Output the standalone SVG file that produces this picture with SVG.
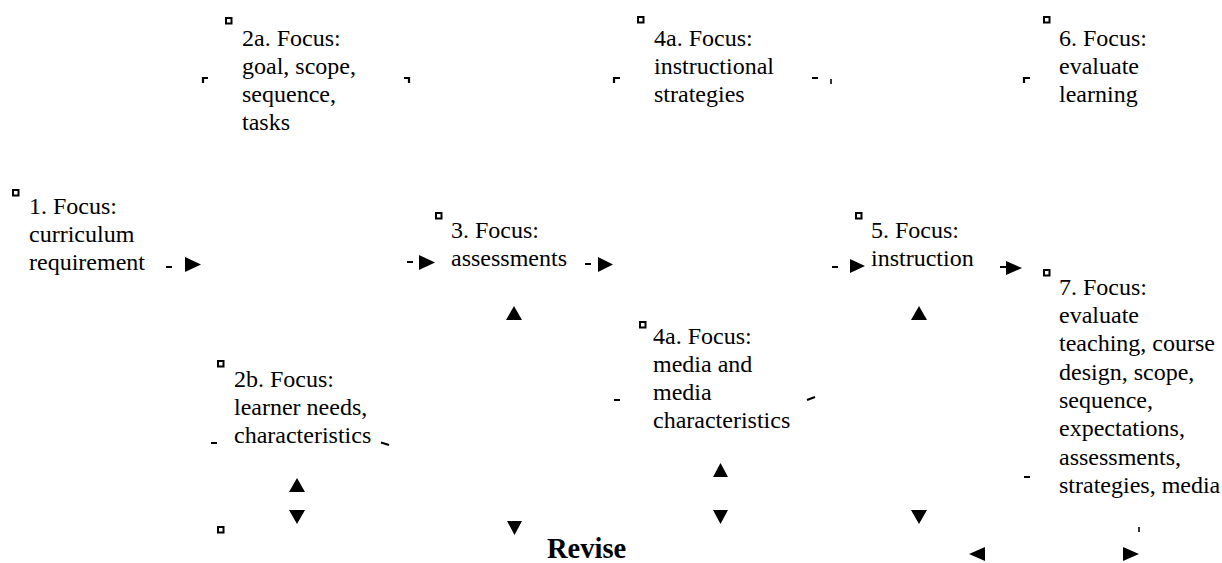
<svg xmlns="http://www.w3.org/2000/svg" width="1222" height="563" viewBox="0 0 1222 563">
  <style>
    text { fill: #000; }
    .sq { fill: none; stroke: #000; stroke-width: 2; }
    .d { stroke: #000; stroke-width: 2.2; fill: none; }
    .k { stroke: #000; stroke-width: 1.6; fill: none; }
    .h { fill: #000; }
  </style>
  <rect width="1222" height="563" fill="#fff"/>

  <!-- focus nodes -->
  <g font-family="'Liberation Serif', 'Times New Roman', Times, serif" font-size="24">
  <g id="node-1">
    <rect class="sq" x="13" y="190" width="5.5" height="5.5"/>
    <text x="29" y="214">1. Focus:</text>
    <text x="29" y="242">curriculum</text>
    <text x="29" y="270">requirement</text>
  </g>
  <g id="node-2a">
    <rect class="sq" x="226" y="18" width="5.5" height="5.5"/>
    <text x="242" y="46">2a. Focus:</text>
    <text x="242" y="74">goal, scope,</text>
    <text x="242" y="102">sequence,</text>
    <text x="242" y="130">tasks</text>
  </g>
  <g id="node-2b">
    <rect class="sq" x="218" y="361" width="5.5" height="5.5"/>
    <text x="234" y="387">2b. Focus:</text>
    <text x="234" y="415">learner needs,</text>
    <text x="234" y="443">characteristics</text>
  </g>
  <g id="node-3">
    <rect class="sq" x="436" y="213" width="5.5" height="5.5"/>
    <text x="451" y="238">3. Focus:</text>
    <text x="451" y="266">assessments</text>
  </g>
  <g id="node-4a-strategies">
    <rect class="sq" x="638" y="17" width="5.5" height="5.5"/>
    <text x="654" y="46">4a. Focus:</text>
    <text x="654" y="74">instructional</text>
    <text x="654" y="102">strategies</text>
  </g>
  <g id="node-4a-media">
    <rect class="sq" x="640" y="322" width="5.5" height="5.5"/>
    <text x="653" y="344">4a. Focus:</text>
    <text x="653" y="372">media and</text>
    <text x="653" y="400">media</text>
    <text x="653" y="428">characteristics</text>
  </g>
  <g id="node-5">
    <rect class="sq" x="856" y="213" width="5.5" height="5.5"/>
    <text x="871" y="238">5. Focus:</text>
    <text x="871" y="266">instruction</text>
  </g>
  <g id="node-6">
    <rect class="sq" x="1044" y="17" width="5.5" height="5.5"/>
    <text x="1059" y="46">6. Focus:</text>
    <text x="1059" y="74">evaluate</text>
    <text x="1059" y="102">learning</text>
  </g>
  <g id="node-7">
    <rect class="sq" x="1044" y="270" width="5.5" height="5.5"/>
    <text x="1059" y="295">7. Focus:</text>
    <text x="1059" y="323">evaluate</text>
    <text x="1059" y="351.3">teaching, course</text>
    <text x="1059" y="379.6">design, scope,</text>
    <text x="1059" y="407.9">sequence,</text>
    <text x="1059" y="436.2">expectations,</text>
    <text x="1059" y="464.5">assessments,</text>
    <text x="1059" y="492.8">strategies, media</text>
  </g>
  <g id="node-revise">
    <rect class="sq" x="218" y="527" width="5.5" height="5.5"/>
    <text x="547" y="558" font-size="28.5" font-weight="bold">Revise</text>
  </g>
  </g>

  <!-- connector fragments and arrowheads -->
  <g id="connectors">
    <!-- dashes -->
    <path class="d" d="M166 267H172 M407 262H413 M585 264H591 M832 267H838 M1000 267H1006 M211 443H217 M614 400H620 M812 78H818 M1024 477H1030"/>
    <path class="d" d="M381 442.5L389 445 M807 400L815 397"/>
    <!-- short ticks -->
    <path class="k" d="M831 79V84 M1139 527V532"/>
    <!-- corner marks -->
    <path class="d" d="M203 83V78H208 M409 83V78H404 M614 83V78H620 M1024 83V78H1030"/>
    <!-- right arrowheads -->
    <polygon class="h" points="185,257 201,264.5 185,272"/>
    <polygon class="h" points="419,255 435,262.5 419,270"/>
    <polygon class="h" points="598,257 613,264.5 598,272"/>
    <polygon class="h" points="850,259 865,266 850,273"/>
    <polygon class="h" points="1006,261 1022,268 1006,275"/>
    <polygon class="h" points="1123,547 1139,554 1123,561"/>
    <!-- left arrowhead -->
    <polygon class="h" points="985,547 969,554 985,561"/>
    <!-- up arrowheads -->
    <polygon class="h" points="514,306 522,320 506,320"/>
    <polygon class="h" points="297,478 305,492 289,492"/>
    <polygon class="h" points="720.5,463 728,477 713,477"/>
    <polygon class="h" points="919,306 927,320 911,320"/>
    <!-- down arrowheads -->
    <polygon class="h" points="289,510 305,510 297,524"/>
    <polygon class="h" points="507,521 522,521 514.5,535"/>
    <polygon class="h" points="713,510 728,510 720.5,524"/>
    <polygon class="h" points="911,510 927,510 919,524"/>
  </g>
</svg>
